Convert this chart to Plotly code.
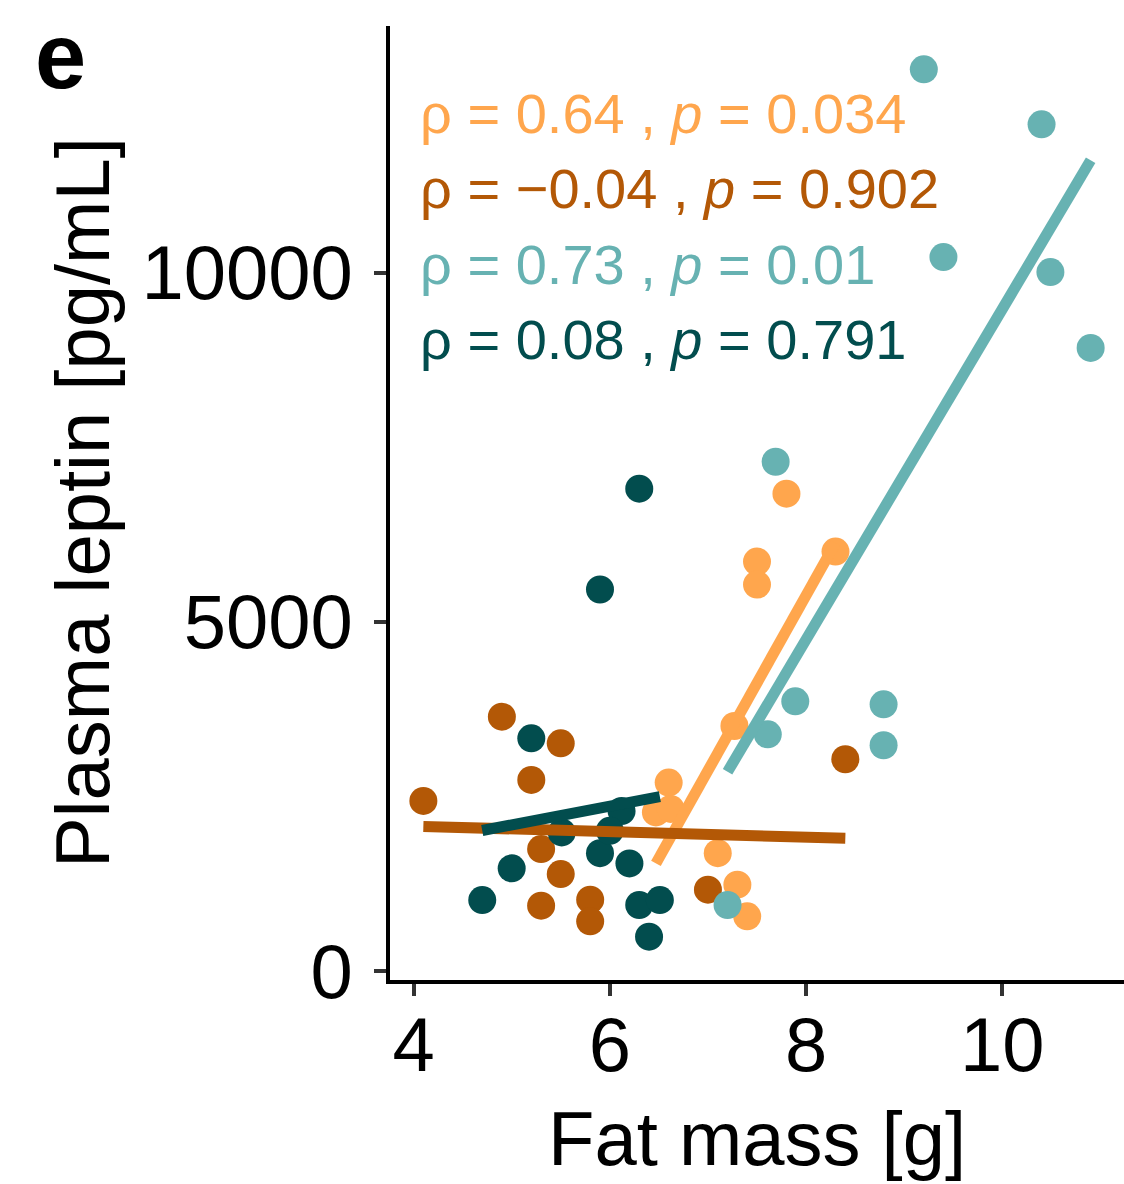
import numpy as np
import plotly.graph_objects as go

# Fat mass [g] and plasma leptin [pg/mL] per group
lo_fat = [6.60, 6.47, 6.62, 7.10, 7.30, 7.40, 7.27, 7.50, 7.50, 7.80, 8.30]
lo_lep = [2698, 2270, 2320, 1687, 1235, 782, 3508, 5863, 5534, 6835, 6006]

do_fat = [4.90, 5.50, 5.20, 4.10, 5.30, 5.50, 5.30, 5.80, 5.80, 7.00, 8.40]
do_lep = [3642, 3260, 2736, 2435, 1745, 1387, 934, 1020, 710, 1163, 3032]

lt_fat = [9.20, 10.40, 9.40, 10.49, 10.90, 7.69, 7.89, 7.61, 8.79, 8.79, 7.20]
lt_lep = [12913, 12126, 10225, 10010, 8923, 7293, 3861, 3389, 3818, 3232, 944]

dt_fat = [6.30, 5.90, 5.20, 5.00, 4.70, 5.90, 6.20, 6.30, 6.51, 6.40, 6.12, 5.51, 6.00]
dt_lep = [6907, 5463, 3332, 1469, 1015, 1687, 1540, 944, 1015, 491, 2290, 1983, 2006]

# Spearman statistics shown for each group
rho_vals = ["0.64", "\u22120.04", "0.73", "0.08"]
p_vals = ["0.034", "0.902", "0.01", "0.791"]

colors = ["#FFA64D", "#B35806", "#67B2B2", "#024D4E"]
groups = [(lo_fat, lo_lep), (do_fat, do_lep), (lt_fat, lt_lep), (dt_fat, dt_lep)]

x_ticks = [4, 6, 8, 10]
y_ticks = [0, 5000, 10000]

FONT = "Liberation Sans, Arial, sans-serif"

W, H = 1124, 1184
ML, MR, MT, MB = 390, 0, 26, 204
PW, PH = W - ML - MR, H - MT - MB


def px_to_paper(px, py):
    """Convert page pixel position to paper coordinates."""
    return (px - ML) / PW, (H - MB - py) / PH


fig = go.Figure()

for (fx, fy), col in zip(groups, colors):
    fig.add_trace(go.Scatter(
        x=fx, y=fy, mode="markers",
        marker=dict(size=28, color=col, line=dict(width=0)),
        showlegend=False, hoverinfo="skip"))

# least-squares line over each group's range
for (fx, fy), col in zip(groups, colors):
    xa = np.array(fx, dtype=float)
    ya = np.array(fy, dtype=float)
    slope, icpt = np.polyfit(xa, ya, 1)
    xs = np.array([xa.min(), xa.max()])
    fig.add_trace(go.Scatter(
        x=xs, y=icpt + slope * xs, mode="lines",
        line=dict(color=col, width=11),
        showlegend=False, hoverinfo="skip"))

x_lo = min(min(g[0]) for g in groups)
x_hi = max(max(g[0]) for g in groups)
y_lo = min(min(g[1]) for g in groups)
y_hi = max(max(g[1]) for g in groups)
xpad = 0.05 * (x_hi - x_lo)
ypad = 0.05 * (y_hi - y_lo)

# stacked correlation labels
label_y = [12284, 11211, 10124, 9038]
for r, p, col, ly in zip(rho_vals, p_vals, colors, label_y):
    fig.add_annotation(
        x=x_lo - 0.05, y=ly, xref="x", yref="y",
        text=f"\u03c1 = {r} , <i>p</i> = {p}",
        showarrow=False, xanchor="left", yanchor="middle",
        font=dict(family=FONT, size=56, color=col))

# axis titles
tx, ty = px_to_paper(757, 1138)
fig.add_annotation(
    x=tx, y=ty, xref="paper", yref="paper",
    text="Fat mass [g]", showarrow=False,
    xanchor="center", yanchor="middle",
    font=dict(family=FONT, size=76, color="black"))
tx, ty = px_to_paper(82, 503)
fig.add_annotation(
    x=tx, y=ty, xref="paper", yref="paper",
    text="Plasma leptin [pg/mL]", showarrow=False, textangle=-90,
    xanchor="center", yanchor="middle",
    font=dict(family=FONT, size=76, color="black"))

# panel tag
tx, ty = px_to_paper(60, 56)
fig.add_annotation(
    x=tx, y=ty, xref="paper", yref="paper",
    text="<b>e</b>", showarrow=False,
    xanchor="center", yanchor="middle",
    font=dict(family=FONT, size=92, color="black"))

axis_common = dict(
    showgrid=False, zeroline=False,
    showline=True, linecolor="black", linewidth=4,
    ticks="outside", ticklen=12, tickwidth=4, tickcolor="#333333",
    tickfont=dict(family=FONT, size=76, color="black"),
)

fig.update_xaxes(range=[x_lo - xpad, x_hi + xpad], tickvals=x_ticks,
                 ticktext=[str(v) for v in x_ticks],
                 ticklabelstandoff=-16, **axis_common)
fig.update_yaxes(range=[y_lo - ypad, y_hi + ypad], tickvals=y_ticks,
                 ticktext=[str(v) for v in y_ticks],
                 ticklabelstandoff=6, **axis_common)

fig.update_layout(
    width=W, height=H,
    margin=dict(l=ML, r=MR, t=MT, b=MB),
    plot_bgcolor="white", paper_bgcolor="white",
    showlegend=False,
)

fig.write_html("out.html")
